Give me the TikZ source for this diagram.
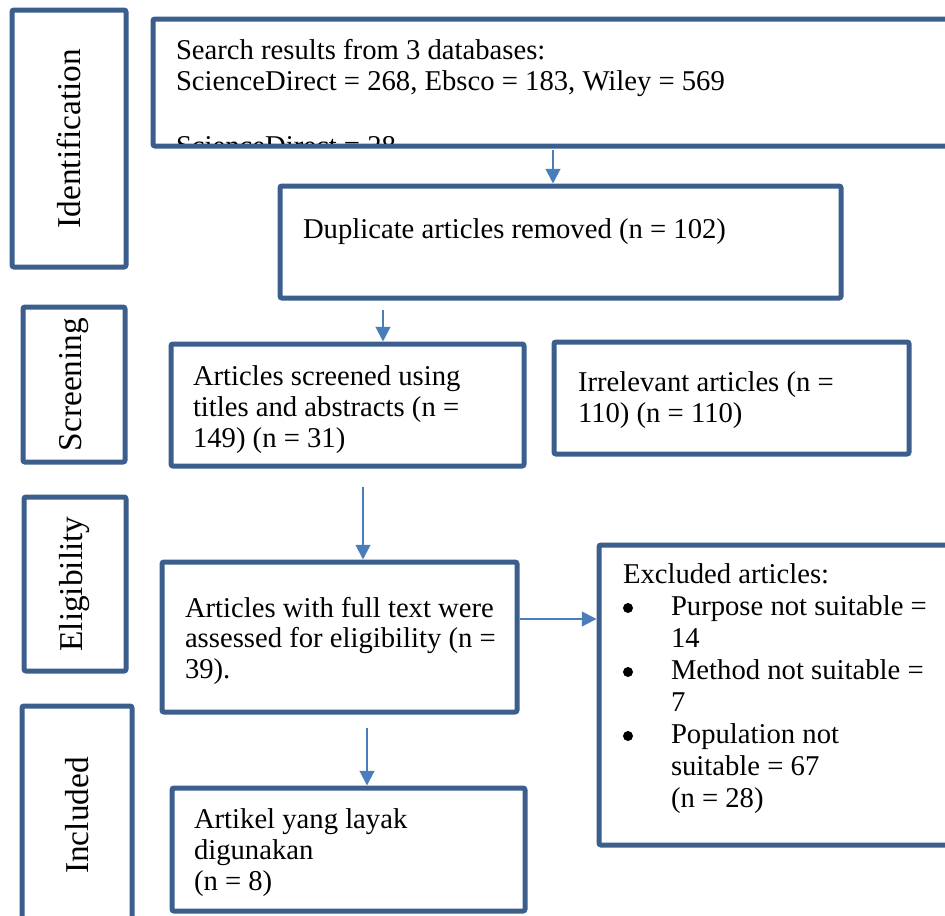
\documentclass[tikz,border=0pt]{standalone}
\usepackage{fontspec}
\setmainfont{Liberation Serif}
\usetikzlibrary{arrows.meta,fit}
\definecolor{boxline}{RGB}{59,94,140}
\definecolor{arrline}{RGB}{74,126,187}
\tikzset{
  box/.style={draw=boxline,line width=3.75pt,rounded corners=1.5pt,inner sep=0pt,fill=white},
  stage/.style={rotate=90,inner sep=0pt,outer sep=0pt,font=\fontsize{25}{30}\selectfont},
  txt/.style={inner sep=0pt,outer sep=0pt,anchor=base west,font=\fontsize{21.5}{24}\selectfont},
  dot/.style={circle,fill=black,inner sep=0pt,minimum size=7.5pt},
  arr/.style={draw=arrline,line width=1.5pt,-{Triangle[width=11pt,length=11pt]}}
}
\begin{document}
\begin{tikzpicture}[x=.75pt,y=-.75pt]
\useasboundingbox (0,0) rectangle (945,915);
\clip (0,0) rectangle (945,915);
% stage boxes
\node[box,fit={(12,10) (126,267)}] (ident) {};
\node[stage] (identlbl) at (ident.center) {Identification};
\node[box,fit={(23,307) (125,462)}] (screen) {};
\node[stage] (screenlbl) at (screen.center) {Screening};
\node[box,fit={(24,497) (126,671)}] (elig) {};
\node[stage] (eliglbl) at (elig.center) {Eligibility};
\node[box,fit={(22,706) (132,925)}] (incl) {};
\node[stage] (incllbl) at (incl.center) {Included};
% search results
\node[box,fit={(153,19) (965,146)}] (search) {};
\node[txt] (search1) at (176,59) {Search results from 3 databases:};
\node[txt] (search2) at (176,90) {ScienceDirect = 268, Ebsco = 183, Wiley = 569};
\begin{scope}
\clip (155,21) rectangle (960,143);
\node[txt] (search3) at (176,155) {ScienceDirect = 28};
\end{scope}
% duplicates
\node[box,fit={(280,186) (841,298)}] (dup) {};
\node[txt] (dup1) at (303,238) {Duplicate articles removed (n = 102)};
% screened
\node[box,fit={(171,344) (524,466)}] (scr) {};
\node[txt] (scr1) at (193,385) {Articles screened using};
\node[txt] (scr2) at (193,416) {titles and abstracts (n =};
\node[txt] (scr3) at (193,447) {149) (n = 31)};
\node[box,fit={(554,342) (909,454)}] (irr) {};
\node[txt] (irr1) at (578,391) {Irrelevant articles (n =};
\node[txt] (irr2) at (578,422) {110) (n = 110)};
% full text
\node[box,fit={(162,562) (517,712)}] (ft) {};
\node[txt] (ft1) at (185,617) {Articles with full text were};
\node[txt] (ft2) at (185,647) {assessed for eligibility (n =};
\node[txt] (ft3) at (185,678) {39).};
\node[box,fit={(599,545) (965,845)}] (excl) {};
\node[txt] (excl1) at (623,583) {Excluded articles:};
\node[dot] (bul1) at (628,608) {};
\node[txt] (excl2) at (671,615) {Purpose not suitable =};
\node[txt] (excl3) at (671,647) {14};
\node[dot] (bul2) at (628,672) {};
\node[txt] (excl4) at (671,679) {Method not suitable =};
\node[txt] (excl5) at (671,711) {7};
\node[dot] (bul3) at (628,736) {};
\node[txt] (excl6) at (671,743) {Population not};
\node[txt] (excl7) at (671,775) {suitable = 67};
\node[txt] (excl8) at (671,807) {(n = 28)};
% included
\node[box,fit={(172,788) (525,911)}] (art) {};
\node[txt] (art1) at (194,828) {Artikel yang layak};
\node[txt] (art2) at (194,859) {digunakan};
\node[txt] (art3) at (194,890) {(n = 8)};
% connectors
\coordinate (a1) at (553,150);
\coordinate (a2) at (383,310);
\coordinate (a3) at (363,487);
\coordinate (a4) at (ft.east |- 0,619);
\coordinate (a5) at (367,728);
\draw[arr] (a1) -- (a1 |- dup.north);
\draw[arr] (a2) -- (a2 |- scr.north);
\draw[arr] (a3) -- (a3 |- ft.north);
\draw[arr] (a4) -- (a4 -| excl.west);
\draw[arr] (a5) -- (a5 |- art.north);
\end{tikzpicture}
\end{document}
